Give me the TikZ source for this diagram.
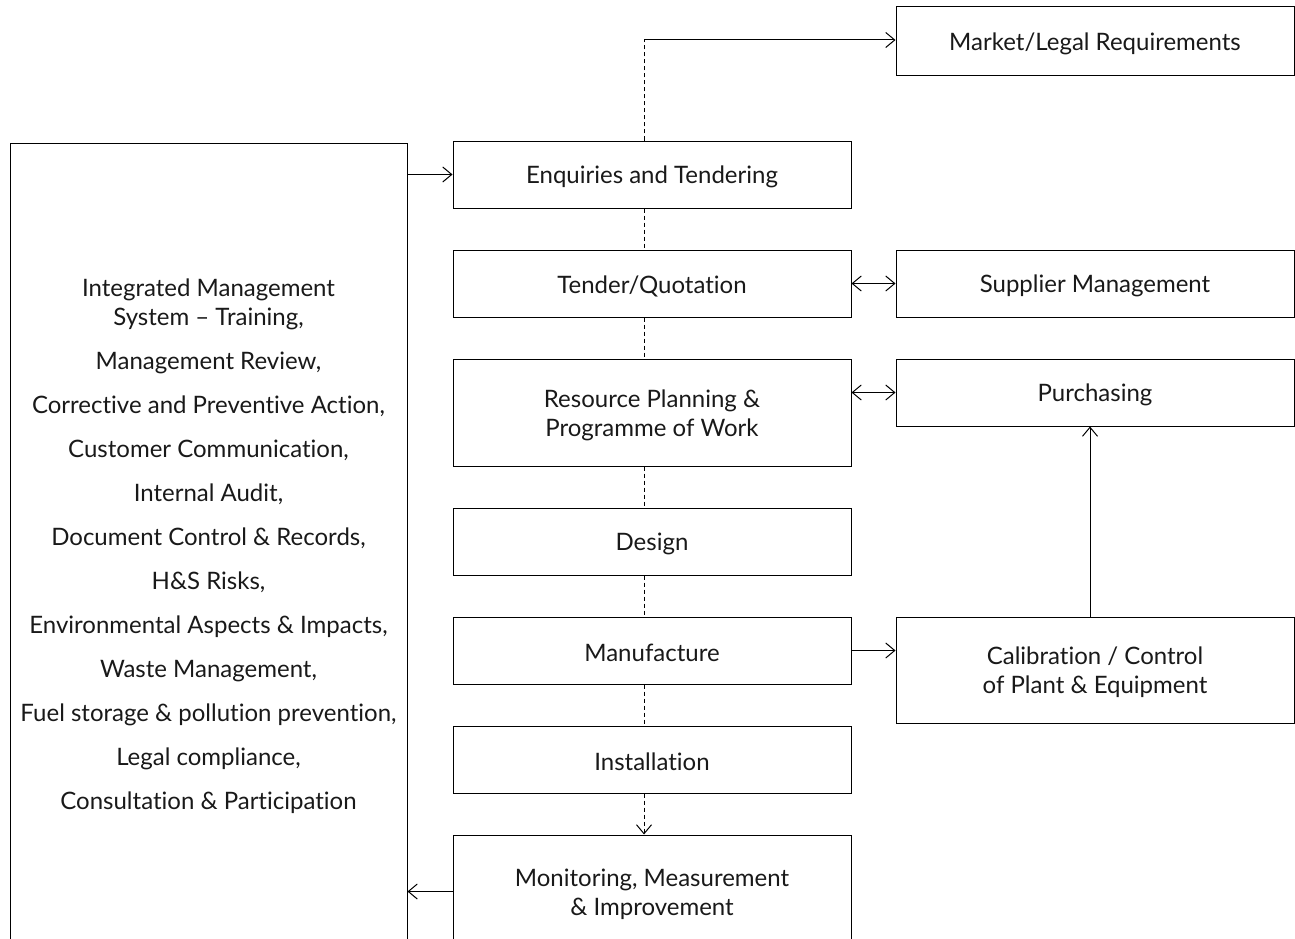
\documentclass[tikz,border=0pt]{standalone}
\usepackage{fontspec}
\setmainfont{Lato}[Ligatures=NoCommon]
\usetikzlibrary{arrows.meta}
\newcommand\procbox[5]{%
  \node[box, minimum width=#2, minimum height=#3] (#1) at (#4) {};
  \node[boxtext] (#1-t) at ([yshift=-2.5pt]#1.center) {#5};}
\begin{document}
\begin{tikzpicture}[x=1pt,y=-1pt,
  box/.style={draw, line width=1pt, inner sep=0pt},
  boxtext/.style={inner sep=0pt, align=center, font=\fontsize{24}{29}\selectfont, text=black!90},
  link/.style={line width=1pt, -{Straight Barb[length=9pt,width=15pt]}},
  dlink/.style={line width=1pt, {Straight Barb[length=9pt,width=15pt]}-{Straight Barb[length=9pt,width=15pt]}},
  spineline/.style={line width=1pt, dash pattern=on 4pt off 3pt}]
\useasboundingbox (0,0) rectangle (1295,939);
\procbox{ims}{397pt}{802pt}{208.5,544}
  {Integrated Management\\System – Training,\\[15pt]Management Review,\\[15pt]Corrective and Preventive Action,\\[15pt]Customer Communication,\\[15pt]Internal Audit,\\[15pt]Document Control \& Records,\\[15pt]H\&S Risks,\\[15pt]Environmental Aspects \& Impacts,\\[15pt]Waste Management,\\[15pt]Fuel storage \& pollution prevention,\\[15pt]Legal compliance,\\[15pt]Consultation \& Participation}
\procbox{et}{398pt}{67pt}{652,174.5}{Enquiries and Tendering}
\procbox{tq}{398pt}{67pt}{652,283.5}{Tender/Quotation}
\procbox{rp}{398pt}{107pt}{652,412.5}{Resource Planning \&\\Programme of Work}
\procbox{de}{398pt}{67pt}{652,541.5}{Design}
\procbox{ma}{398pt}{67pt}{652,650.5}{Manufacture}
\procbox{in}{398pt}{67pt}{652,759.5}{Installation}
\procbox{mo}{398pt}{113pt}{652,891.5}{Monitoring, Measurement\\\& Improvement}
\procbox{ml}{398pt}{69pt}{1095,41.5}{Market/Legal Requirements}
\procbox{sm}{398pt}{67pt}{1095,283.5}{Supplier Management}
\procbox{pu}{398pt}{67pt}{1095,392.5}{Purchasing}
\procbox{ca}{398pt}{106pt}{1095,670}{Calibration / Control\\of Plant \& Equipment}
\coordinate (spine) at (644,40);
\coordinate (cx) at (1090,0);
% dashed process spine
\draw[spineline] (et.north -| spine) -- (spine);
\draw[link] (spine) -- (spine -| ml.west);
\draw[spineline] (et.south -| spine) -- (tq.north -| spine);
\draw[spineline] (tq.south -| spine) -- (rp.north -| spine);
\draw[spineline] (rp.south -| spine) -- (de.north -| spine);
\draw[spineline] (de.south -| spine) -- (ma.north -| spine);
\draw[spineline] (ma.south -| spine) -- (in.north -| spine);
\draw[spineline, -{Straight Barb[length=9pt,width=15pt]}] (in.south -| spine) -- (mo.north -| spine);
% other connectors
\draw[link] (ims.east |- et.west) -- (et.west);
\draw[dlink] (tq.east) -- (sm.west);
\draw[dlink] (rp.east |- pu.west) -- (pu.west);
\draw[link] (ma.east) -- (ca.west |- ma.east);
\draw[link] (ca.north -| cx) -- (pu.south -| cx);
\draw[link] (mo.west) -- (ims.east |- mo.west);
\end{tikzpicture}
\end{document}
